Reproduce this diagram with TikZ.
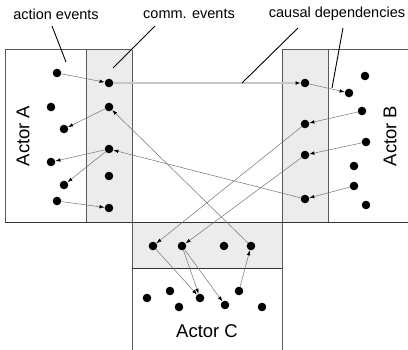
\documentclass[tikz,border=0pt]{standalone}
\usepackage{fontspec}
\setmainfont{Liberation Sans}
\usetikzlibrary{arrows.meta}
\definecolor{stripgray}{HTML}{ECECEC}
\definecolor{bordergray}{HTML}{5A5A5A}
\begin{document}
\begin{tikzpicture}[x=1pt,y=-1pt,
  ev/.style={circle,fill=black,inner sep=0pt,minimum size=8.6pt},
  dep/.style={draw=black!55,line width=0.5pt,-{Latex[length=5pt,width=3.5pt,color=black]}},
  msg/.style={draw=black!22,line width=1.3pt,-{Latex[length=5pt,width=4pt,color=black]}},
  border/.style={draw=bordergray,line width=1pt},
  leader/.style={draw=black,line width=0.9pt},
  lbl/.style={font=\fontsize{14.5}{16}\selectfont,inner sep=0pt},
  actor/.style={font=\fontsize{18.5}{20}\selectfont,inner sep=0pt}]
\useasboundingbox (0,0) rectangle (408,350);
% strips
\fill[stripgray] (86,50) rectangle (132,223);
\fill[stripgray] (282,50) rectangle (328,223);
\fill[stripgray] (132,223) rectangle (282,269);
% borders
\draw[border] (132,50) -- (5,50) -- (5,223);
\draw[border] (282,50) -- (408,50);
\draw[border] (86,50) -- (86,223);
\draw[border] (328,50) -- (328,223);
\draw[border] (132,50) -- (132,350);
\draw[border] (282,50) -- (282,350);
\draw[draw=black!80,line width=1pt] (5,223) -- (408,223);
\draw[draw=black!80,line width=1pt] (132,269) -- (282,269);
% actor labels
\node[actor,rotate=90] (la) at (23,136) {Actor A};
\node[actor,rotate=90] (lb) at (390,136) {Actor B};
\node[actor] (lc) at (207,331) {Actor C};
% top labels
\node[lbl] (tact) at (56,14) {action events};
\node[lbl] (tcomm) at (189,14) {comm. events};
\node[lbl] (tcaus) at (337,14) {causal dependencies};
% events A
\node[ev] (a1) at (57,73) {};
\node[ev] (a2) at (51,107) {};
\node[ev] (a3) at (64,129) {};
\node[ev] (a4) at (51,162) {};
\node[ev] (a5) at (64,185) {};
\node[ev] (a6) at (57,201) {};
\node[ev] (ac1) at (109,83) {};
\node[ev] (ac2) at (109,107) {};
\node[ev] (ac3) at (109,149) {};
\node[ev] (ac4) at (109,176) {};
\node[ev] (ac5) at (109,208) {};
% events B
\node[ev] (bc1) at (305,83) {};
\node[ev] (bc2) at (305,124) {};
\node[ev] (bc3) at (305,155) {};
\node[ev] (bc4) at (305,199) {};
\node[ev] (b1) at (365,76) {};
\node[ev] (b2) at (349,93) {};
\node[ev] (b3) at (362,111) {};
\node[ev] (b4) at (366,142) {};
\node[ev] (b5) at (354,166) {};
\node[ev] (b6) at (354,186) {};
\node[ev] (b7) at (366,205) {};
% events C
\node[ev] (cc1) at (153,246) {};
\node[ev] (cc2) at (182,246) {};
\node[ev] (cc3) at (224,246) {};
\node[ev] (cc4) at (251,246) {};
\node[ev] (c1) at (147,298) {};
\node[ev] (c2) at (170,291) {};
\node[ev] (c3) at (179,307) {};
\node[ev] (c4) at (200,298) {};
\node[ev] (c5) at (225,305) {};
\node[ev] (c6) at (239,291) {};
\node[ev] (c7) at (262,307) {};
% dependencies
\draw[msg] (ac1) -- (bc1);
\draw[dep] (a1) -- (ac1);
\draw[dep] (ac2) -- (a3);
\draw[dep] (ac3) -- (a4);
\draw[dep] (ac3) -- (a5);
\draw[dep] (a6) -- (ac5);
\draw[dep] (cc4) -- (ac2);
\draw[dep] (bc4) -- (ac3);
\draw[dep] (bc1) -- (b2);
\draw[dep] (b3) -- (bc2);
\draw[dep] (b4) -- (bc3);
\draw[dep] (b6) -- (bc4);
\draw[dep] (bc2) -- (cc1);
\draw[dep] (bc3) -- (cc2);
\draw[dep] (cc1) -- (c4);
\draw[dep] (cc2) -- (c4);
\draw[dep] (cc2) -- (c5);
\draw[dep] (c6) -- (cc4);
% leaders
\coordinate (pact) at (66,62);
\coordinate (pcomm) at (113,68);
\coordinate (pcaus1) at (242,83);
\coordinate (pcaus2) at (332,88);
\coordinate (sact) at (52,26);
\coordinate (scomm) at (155,26);
\coordinate (scaus1) at (298,28);
\coordinate (scaus2) at (343,28);
\draw[leader] (sact) -- (pact);
\draw[leader] (scomm) -- (pcomm);
\draw[leader] (scaus1) -- (pcaus1);
\draw[leader] (scaus2) -- (pcaus2);
\end{tikzpicture}
\end{document}
